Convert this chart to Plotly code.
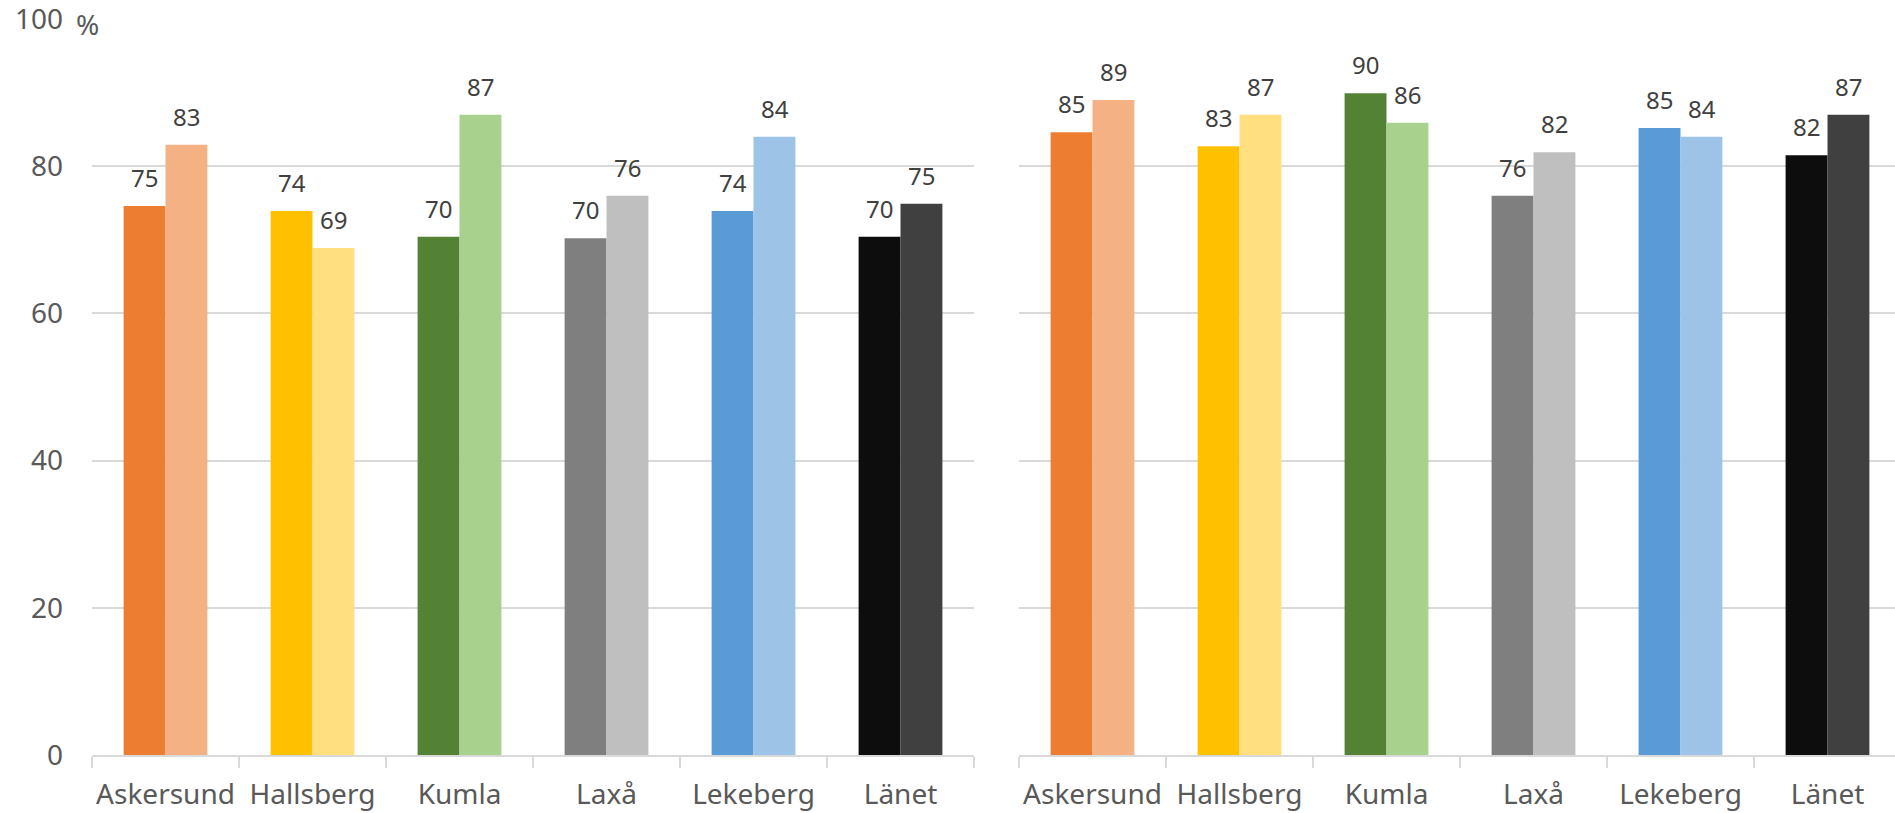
import plotly.graph_objects as go

categories = ["Askersund", "Hallsberg", "Kumla", "Laxå", "Lekeberg", "Länet"]

left_dark = [74.6, 73.9, 70.4, 70.2, 73.9, 70.4]
left_light = [82.9, 68.9, 87.0, 76.0, 84.0, 74.9]
right_dark = [84.6, 82.7, 89.9, 76.0, 85.2, 81.5]
right_light = [89.0, 87.0, 85.9, 81.9, 84.0, 87.0]

dark_colors = ["#ED7D31", "#FFC000", "#548235", "#7F7F7F", "#5B9BD5", "#0D0D0D"]
light_colors = ["#F4B183", "#FFDF7F", "#A9D18E", "#BFBFBF", "#9DC3E6", "#404040"]

y_ticks = [0, 20, 40, 60, 80, 100]

W, H = 1895, 813
FONT = "Noto Sans"
TICK_COLOR = "#595959"
LABEL_COLOR = "#404040"
GRID = "#D9D9D9"

fig = go.Figure()

panels = [("x", "y", left_dark, left_light), ("x2", "y2", right_dark, right_light)]
annotations = []
for xa, ya, dark, light in panels:
    fig.add_trace(go.Bar(x=categories, y=dark, marker=dict(color=dark_colors, line=dict(width=0)),
                         xaxis=xa, yaxis=ya, showlegend=False, hoverinfo="x+y"))
    fig.add_trace(go.Bar(x=categories, y=light, marker=dict(color=light_colors, line=dict(width=0)),
                         xaxis=xa, yaxis=ya, showlegend=False, hoverinfo="x+y"))
    for vals, shift in ((dark, -21), (light, 21)):
        for c, v in zip(categories, vals):
            annotations.append(dict(x=c, y=v, xref=xa, yref=ya, text=f"{v:.0f}", showarrow=False,
                                    xanchor="center", yanchor="bottom", xshift=shift, yshift=10,
                                    font=dict(family=FONT, size=24, color=LABEL_COLOR)))

annotations.append(dict(x=87 / W, y=1 - 24 / H, xref="paper", yref="paper", text="%", showarrow=False,
                        xanchor="center", yanchor="middle",
                        font=dict(family=FONT, size=28, color=TICK_COLOR)))

ydom = [(H - 755) / H, (H - 19) / H]
xcommon = dict(type="category", showline=True, linecolor=GRID, linewidth=2, ticks="outside",
               tickson="boundaries", ticklen=11, tickcolor=GRID, tickwidth=2, showgrid=False,
               tickangle=0, ticklabeloverflow="allow", ticklabelstandoff=13,
               tickfont=dict(family=FONT, size=28, color=TICK_COLOR), zeroline=False, fixedrange=True,
               automargin=False)
ycommon = dict(range=[0, 100], tickvals=y_ticks, showgrid=True, gridcolor=GRID, gridwidth=2,
               zeroline=False, showline=False, ticks="", fixedrange=True, automargin=False,
               ticklabeloverflow="allow",
               tickfont=dict(family=FONT, size=28, color=TICK_COLOR))

fig.update_layout(
    width=W, height=H,
    margin=dict(l=0, r=0, t=0, b=0),
    paper_bgcolor="white", plot_bgcolor="white",
    barmode="group", bargap=0.43, bargroupgap=0,
    xaxis=dict(domain=[92 / W, 974 / W], range=[-0.5, 5.5], anchor="y", **xcommon),
    xaxis2=dict(domain=[1019 / W, 1.0], range=[-0.5, -0.5 + 876 / 147], anchor="y2", **xcommon),
    yaxis=dict(domain=ydom, anchor="x", showticklabels=True, ticklabelstandoff=28, **ycommon),
    yaxis2=dict(domain=ydom, anchor="x2", showticklabels=False, **ycommon),
    annotations=annotations,
)

fig.write_html("out.html", config={"displayModeBar": False},
               post_script="document.body.style.margin='0';document.body.style.overflow='hidden';")
